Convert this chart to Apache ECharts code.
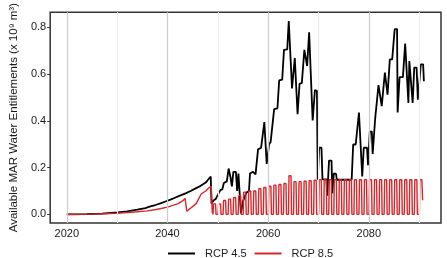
<!DOCTYPE html>
<html>
<head>
<meta charset="utf-8">
<script src="https://cdn.jsdelivr.net/npm/echarts@6/dist/echarts.min.js"></script>
<style>
  html, body { margin: 0; padding: 0; background: #fff; }
  #chart { width: 447px; height: 258px; }
</style>
</head>
<body>
<div id="chart"></div>
<script>
  const xTicks = [2020, 2040, 2060, 2080];
  const majorGrid = [2020, 2040, 2060, 2080];
  const minorGrid = [2030, 2050, 2070, 2090];
  const yTicks = [0, 0.2, 0.4, 0.6, 0.8];

  // RCP 4.5 path, [year, 10^9 m3]
  const rcp45 = [
    [2020, 0], [2024, 0.001], [2027, 0.003], [2030, 0.008], [2032, 0.013], [2034, 0.02],
    [2035.6, 0.027], [2035.8, 0.024], [2036.6, 0.034], [2036.8, 0.030],
    [2037.6, 0.040], [2037.8, 0.036], [2038.6, 0.047], [2038.8, 0.043],
    [2039.6, 0.055], [2039.8, 0.050], [2040.6, 0.063], [2040.8, 0.058],
    [2041.6, 0.072], [2041.8, 0.066], [2042.6, 0.081], [2042.8, 0.075],
    [2043.6, 0.090], [2043.8, 0.084], [2044.6, 0.100], [2044.8, 0.094],
    [2045.6, 0.111], [2045.8, 0.104], [2046.6, 0.122], [2046.8, 0.115],
    [2047.6, 0.136], [2047.8, 0.128], [2048.6, 0.162], [2048.75, 0.046],
    [2049.2, 0.060], [2049.6, 0.066], [2050.5, 0.104], [2050.9, 0.107],
    [2051.2, 0.134], [2051.8, 0.141], [2052.15, 0.196], [2052.5, 0.162],
    [2052.8, 0.120], [2053.1, 0.182], [2053.6, 0.182], [2053.85, 0.100],
    [2054.1, 0.175], [2054.4, 0.169], [2054.6, 0.004], [2055.05, 0.059],
    [2055.7, 0.093], [2056.2, 0.100], [2056.4, 0.175], [2057.0, 0.182],
    [2057.5, 0.171], [2058.0, 0.278], [2058.6, 0.285], [2059.25, 0.395],
    [2059.6, 0.395], [2059.72, 0.216], [2060.2, 0.300], [2060.5, 0.310],
    [2061.2, 0.450], [2061.85, 0.454], [2062.2, 0.573], [2062.8, 0.577],
    [2063.15, 0.704], [2063.8, 0.706], [2064.1, 0.827], [2064.45, 0.824],
    [2064.75, 0.539], [2065.3, 0.669], [2065.6, 0.667], [2065.85, 0.429],
    [2066.25, 0.560], [2066.7, 0.562], [2067.2, 0.704], [2067.55, 0.700],
    [2067.75, 0.635], [2068.15, 0.779], [2068.5, 0.776], [2068.85, 0.402],
    [2069.3, 0.532], [2069.7, 0.529], [2069.85, 0.148], [2070.15, 0.285],
    [2070.6, 0.285], [2070.8, 0.150], [2071.6, 0.150], [2071.75, 0.080],
    [2072.1, 0.230], [2072.6, 0.230], [2072.75, 0.090], [2073.05, 0.175],
    [2073.5, 0.173], [2073.65, 0.148], [2076.6, 0.148], [2076.9, 0.299],
    [2077.4, 0.299], [2078.05, 0.436], [2078.35, 0.436], [2078.7, 0.162],
    [2079.0, 0.285], [2079.65, 0.285], [2079.85, 0.210], [2080.2, 0.354],
    [2080.6, 0.354], [2080.77, 0.258], [2081.27, 0.410], [2081.6, 0.410],
    [2081.93, 0.553], [2082.24, 0.553], [2082.57, 0.463], [2083.2, 0.607],
    [2083.54, 0.607], [2083.73, 0.512], [2084.18, 0.663], [2084.65, 0.663],
    [2085.15, 0.793], [2085.62, 0.793], [2085.73, 0.436], [2086.12, 0.587],
    [2086.78, 0.587], [2087.23, 0.731], [2087.56, 0.731], [2087.87, 0.477],
    [2088.06, 0.656], [2088.39, 0.656], [2088.72, 0.477], [2089.03, 0.628],
    [2089.5, 0.628], [2089.75, 0.491], [2090.34, 0.642], [2090.8, 0.642],
    [2090.95, 0.570]
  ];

  // RCP 8.5 before the yearly cycle starts
  const rcp85Early = [
    [2020, 0], [2025, 0.001], [2030, 0.005], [2034, 0.011], [2036, 0.015],
    [2038, 0.022], [2040, 0.031], [2042, 0.045], [2043.1, 0.059], [2043.5, 0.068],
    [2043.85, 0.013], [2045.7, 0.046], [2046.7, 0.087], [2047.6, 0.100],
    [2048.3, 0.115], [2048.7, 0.120], [2048.9, 0.010]
  ];
  // yearly peaks of the RCP 8.5 cycle, 2049 .. 2090
  const rcp85FirstYear = 2049;
  const rcp85Peaks = [
    0.045, 0.045, 0.059, 0.065, 0.072, 0.080, 0.095, 0.100, 0.100, 0.110,
    0.115, 0.120, 0.125, 0.128, 0.132, 0.165, 0.140, 0.140, 0.142, 0.144,
    0.146, 0.148, 0.148, 0.148, 0.148, 0.148, 0.148, 0.148, 0.148, 0.148,
    0.148, 0.148, 0.148, 0.148, 0.148, 0.148, 0.148, 0.148, 0.148, 0.148,
    0.148, 0.148
  ];
  const rcp85Last = 0.06;

  const rcp85 = rcp85Early.slice();
  rcp85Peaks.forEach((p, i) => {
    const y = rcp85FirstYear + i;
    rcp85.push([y + 0.05, 0], [y + 0.15, p], [y + 0.55, p]);
    rcp85.push(i === rcp85Peaks.length - 1 ? [y + 0.7, rcp85Last] : [y + 0.65, 0]);
  });

  const font = "'Liberation Sans', Arial, sans-serif";
  const chart = echarts.init(document.getElementById('chart'), null, { renderer: 'canvas' });
  chart.setOption({
    animation: false,
    textStyle: { fontFamily: font },
    grid: {
      left: 41, right: 6, top: 4, bottom: 35,
      show: true, borderColor: '#333', borderWidth: 1.5, backgroundColor: '#fff'
    },
    legend: {
      left: 163, top: 243,
      icon: 'rect', itemWidth: 27, itemHeight: 2, itemGap: 8,
      textStyle: { fontSize: 11, color: '#1a1a1a', fontFamily: font, padding: [0, 0, 0, 5] },
      data: ['RCP 4.5', 'RCP 8.5']
    },
    xAxis: {
      type: 'value', min: 2016.7, max: 2094.35,
      axisLine: { show: false },
      splitLine: { show: false },
      axisTick: { show: true, customValues: xTicks, length: 3, lineStyle: { color: '#333' } },
      axisLabel: {
        customValues: xTicks, margin: 5, fontSize: 11, color: '#1a1a1a', fontFamily: font,
        formatter: v => String(v)
      }
    },
    yAxis: {
      type: 'value', min: -0.037, max: 0.865,
      name: 'Available MAR Water Entitlements (x 10⁹ m³)',
      nameLocation: 'middle', nameGap: 29,
      nameTextStyle: { fontSize: 11.5, color: '#1a1a1a', fontFamily: font },
      axisLine: { show: false },
      splitLine: { show: false },
      axisTick: { show: true, customValues: yTicks, length: 3, lineStyle: { color: '#333' } },
      axisLabel: {
        customValues: yTicks, margin: 4, fontSize: 11, color: '#1a1a1a', fontFamily: font,
        formatter: v => v.toFixed(1)
      }
    },
    series: [
      {
        name: 'grid', type: 'line', data: [], z: 1, silent: true,
        markLine: {
          silent: true, symbol: ['none', 'none'], label: { show: false },
          data: majorGrid.map(v => ({ xAxis: v, lineStyle: { color: '#cccccc', width: 1.2, type: 'solid' } }))
            .concat(minorGrid.map(v => ({ xAxis: v, lineStyle: { color: '#ececec', width: 1.2, type: 'solid' } })))
        }
      },
      {
        name: 'RCP 4.5', type: 'line', data: rcp45, showSymbol: false, z: 3,
        itemStyle: { color: '#000' }, lineStyle: { color: '#000', width: 1.8 }
      },
      {
        name: 'RCP 8.5', type: 'line', data: rcp85, showSymbol: false, z: 4,
        itemStyle: { color: '#d7262b' }, lineStyle: { color: '#d7262b', width: 1.4 }
      }
    ]
  });
</script>
</body>
</html>
